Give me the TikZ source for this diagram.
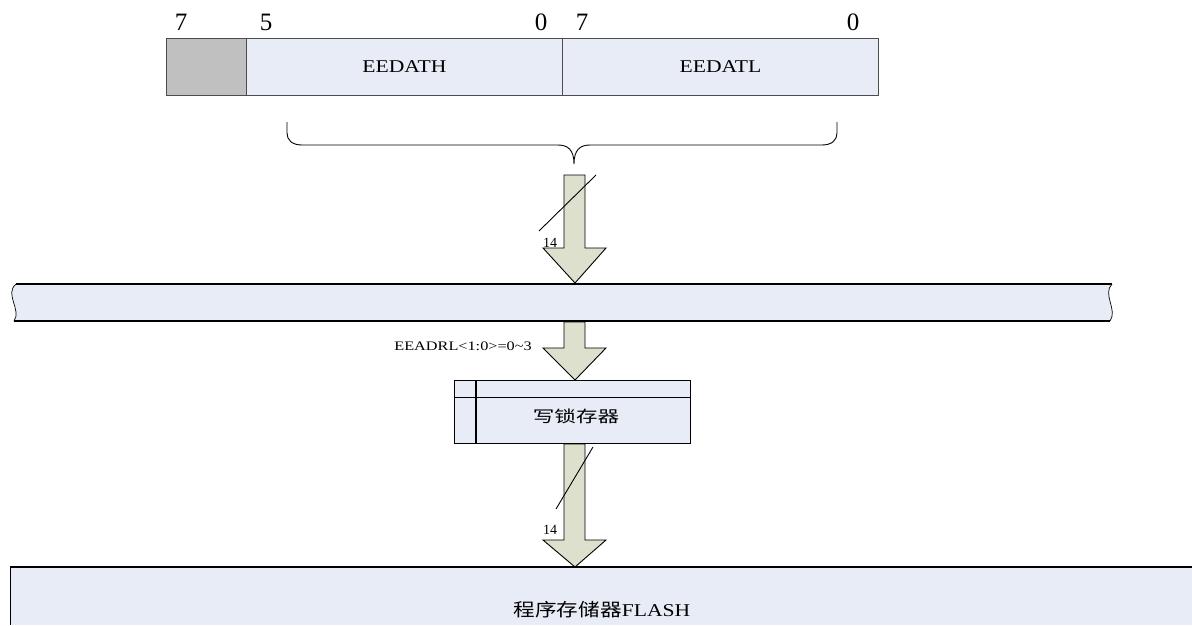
\documentclass[tikz,border=0pt]{standalone}
\usepackage{fontspec}
\setmainfont{Liberation Serif}
\newfontfamily\cjk{Noto Sans CJK SC}
\definecolor{boxblue}{RGB}{232,236,247}
\definecolor{boxgray}{RGB}{192,192,192}
\definecolor{arrowfill}{RGB}{221,224,204}
\begin{document}
\begin{tikzpicture}[x=1pt,y=-1pt,
  reg/.style={draw=black!70,line width=0.8pt,fill=boxblue},
  blockarrow/.style={draw=black,line width=0.9pt,fill=arrowfill,line join=miter},
  bitlbl/.style={font=\fontsize{25}{25}\selectfont,inner sep=0pt},
  smalllbl/.style={font=\fontsize{14}{14}\selectfont,inner sep=0pt}]
\useasboundingbox (0,0) rectangle (1192,625);
% register
\node[draw=black!70,line width=0.8pt,fill=boxgray,minimum width=80pt,minimum height=57pt,anchor=north west,inner sep=0pt] (gray) at (166,38) {};
\node[reg,minimum width=316pt,minimum height=57pt,anchor=north west,inner sep=0pt] (eedath) at (246,38) {};
\node[reg,minimum width=316pt,minimum height=57pt,anchor=north west,inner sep=0pt] (eedatl) at (562,38) {};
\node[font=\fontsize{18}{18}\selectfont,inner sep=0pt,xscale=1.2] (eedathtxt) at (eedath.center) {EEDATH};
\node[font=\fontsize{18}{18}\selectfont,inner sep=0pt,xscale=1.2] (eedatltxt) at (eedatl.center) {EEDATL};
\node[bitlbl] (b7a) at (181,22) {7};
\node[bitlbl] (b5) at (266,22) {5};
\node[bitlbl] (b0a) at (541,22) {0};
\node[bitlbl] (b7b) at (582,22) {7};
\node[bitlbl] (b0b) at (853,22) {0};
% brace
\coordinate (bracetip) at (574,164);
\draw[line width=0.9pt] (287,122) -- (287,133) .. controls (287,140) and (292,145) .. (302,145)
  -- (558,145) .. controls (568,145) and (574,150) .. (bracetip)
  .. controls (574,150) and (580,145) .. (590,145)
  -- (822,145) .. controls (832,145) and (837,140) .. (837,133) -- (837,122);
% arrow 1
\draw[blockarrow] (564,175) -- (585,175) -- (585,248) -- (606,248) -- (575,283) -- (543,248) -- (564,248) -- cycle;
\draw[line width=0.9pt] (539,231) -- (596,175);
\node[smalllbl] (n14a) at (550,243) {14};
% bus
\path[fill=boxblue] (16,284) .. controls (4,294) and (22,310) .. (14,321) -- (1110,321) .. controls (1118,310) and (1102,294) .. (1112,284) -- cycle;
\draw[line width=1.3pt] (16,284) -- (1112,284);
\draw[line width=1.3pt] (14,321) -- (1110,321);
\draw[line width=0.7pt] (16,284) .. controls (4,294) and (22,310) .. (14,321);
\draw[line width=0.7pt] (1112,284) .. controls (1102,294) and (1118,310) .. (1110,321);
\node (bus) at (564,302) {};
% arrow 2
\draw[blockarrow] (564,322) -- (585,322) -- (585,348) -- (606,348) -- (575,380) -- (543,348) -- (564,348) -- cycle;
\node[font=\fontsize{13}{13}\selectfont,inner sep=0pt,anchor=east,xscale=1.25] (addr) at (532,346) {EEADRL<1:0>=0\char`\~3};
% latch
\node[draw=black,line width=0.9pt,fill=boxblue,minimum width=236pt,minimum height=63pt,anchor=north west,inner sep=0pt] (latch) at (454,380) {};
\draw[line width=0.9pt] (454,397) -- (690,397);
\draw[line width=1.6pt] (476,380) -- (476,443);
\node[font=\cjk\fontsize{16}{16}\selectfont,inner sep=0pt,xscale=1.35] (latchtxt) at (576,416) {写锁存器};
% arrow 3
\draw[blockarrow] (564,444) -- (585,444) -- (585,540) -- (606,540) -- (575,567) -- (543,540) -- (564,540) -- cycle;
\draw[line width=0.9pt] (556,509) -- (593,447);
\node[smalllbl] (n14b) at (550,530) {14};
% flash
\path[fill=boxblue] (10,567) rectangle (1192,625);
\draw[line width=1.3pt] (10,567) -- (1192,567);
\draw[line width=1pt] (10,567) -- (10,625);
\node[inner sep=0pt,xscale=1.2] (flash) at (602,610) {{\cjk\fontsize{18}{18}\selectfont 程序存储器}{\fontsize{18}{18}\selectfont FLASH}};
\end{tikzpicture}
\end{document}
